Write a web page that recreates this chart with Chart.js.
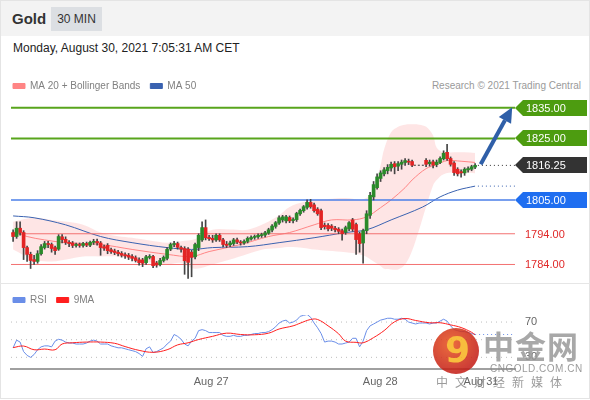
<!DOCTYPE html>
<html>
<head>
<meta charset="utf-8">
<script src="https://cdn.jsdelivr.net/npm/chart.js@4.4.0/dist/chart.umd.min.js"></script>
<style>
  body { margin: 0; width: 590px; height: 400px; overflow: hidden; background: #fff;
         font-family: "Liberation Sans", Arial, sans-serif; }
  .abs { position: absolute; }
  #frame { left: 0; top: 0; width: 588px; height: 397px; border: 1px solid #e4e4e4; }
  #head { left: 1px; top: 1px; width: 588px; height: 35px; background: #f3f3f3; }
  #gold { left: 12px; top: 10px; font-size: 15px; font-weight: bold; color: #333; }
  #tf { left: 51px; top: 7px; width: 51px; height: 24px; line-height: 24px; text-align: center;
        background: #dcdfe3; font-size: 12px; color: #333; }
  #date { left: 13px; top: 41px; font-size: 12px; color: #222; }
  #research { right: 9px; top: 80px; font-size: 10px; color: #9a9a9a; }
  #sep { left: 0; top: 283px; width: 590px; height: 1px; background: #e6e6e6; }
  canvas { position: absolute; left: 0; }
  #main { top: 71px; }
  #rsi { top: 285px; }
  #wm { left: 430px; top: 326px; width: 160px; height: 70px; opacity: 0.85; }
  #logo { left: 3px; top: 2px; width: 46px; height: 46px; border-radius: 50%;
          background: radial-gradient(circle at 40% 35%, #e8521c, #c41c14 70%); }
  #logo span { position: absolute; left: 12px; top: 1px; font-size: 36px; font-weight: bold;
               color: #f7b21c; font-family: "DejaVu Sans", sans-serif; }
  #cn { left: 53px; top: 1px; font-size: 31px; font-weight: bold; color: #999;
        font-family: "Noto Sans CJK SC", sans-serif; letter-spacing: 1px; line-height: 36px; }
  #dom { left: 60px; top: 37px; font-size: 10px; color: #8a8a8a; letter-spacing: 0.5px; }
  #slogan { left: 6px; top: 47px; font-size: 12px; color: #8a8a8a; letter-spacing: 7px;
            font-family: "Noto Sans CJK SC", sans-serif; }
</style>
</head>
<body>
<div id="frame" class="abs"></div>
<div id="head" class="abs"></div>
<div id="gold" class="abs">Gold</div>
<div id="tf" class="abs">30 MIN</div>
<div id="date" class="abs">Monday, August 30, 2021 7:05:31 AM CET</div>
<div id="research" class="abs">Research © 2021 Trading Central</div>
<div id="sep" class="abs"></div>
<canvas id="main" width="590" height="212"></canvas>
<canvas id="rsi" width="590" height="111"></canvas>
<div id="wm" class="abs">
  <div id="logo" class="abs"><span>9</span></div>
  <div id="cn" class="abs">中金网</div>
  <div id="dom" class="abs">CNGOLD.COM.CN</div>
  <div id="slogan" class="abs">中文财经新媒体</div>
</div>
<script>
// ---- candles (30 min), index 115-117 = weekend gap
const opens = [1794.4,1793.1,1795.8,1794.4,1789.5,1787.3,1785.6,1785.0,1787.5,1789.5,
  1790.8,1790.5,1789.5,1789.0,1793.0,1792.2,1791.2,1791.0,1790.2,1790.5,
  1790.2,1790.8,1790.3,1791.2,1791.5,1791.0,1789.8,1790.2,1788.8,1788.4,
  1788.0,1787.6,1787.2,1787.0,1786.6,1786.2,1785.5,1785.5,1784.6,1786.3,
  1786.6,1784.5,1784.0,1785.3,1786.0,1789.0,1790.5,1790.8,1789.5,1789.2,
  1789.0,1788.0,1786.5,1789.5,1792.0,1796.0,1792.8,1792.5,1792.0,1793.5,
  1792.0,1790.6,1790.4,1790.8,1792.0,1791.2,1791.0,1791.5,1792.3,1792.8,
  1793.0,1793.4,1793.6,1794.2,1795.2,1796.4,1797.5,1798.5,1798.2,1799.3,
  1798.3,1798.6,1800.5,1801.5,1802.6,1804.2,1803.4,1802.0,1801.5,1796.8,
  1796.7,1796.5,1795.8,1795.5,1795.0,1794.5,1795.6,1798.5,1797.0,1794.0,
  1791.0,1795.0,1800.0,1806.0,1809.0,1812.0,1813.5,1814.5,1815.4,1816.8,
  1816.0,1816.6,1817.2,1817.6,1817.5,null,null,null,1817.9,1816.8,
  1817.4,1816.5,1817.2,1818.4,1820.5,1818.5,1817.0,1815.0,1814.2,1813.8,
  1814.8,1815.0,1815.7];
const closes = [1793.1,1795.8,1794.4,1789.5,1787.3,1785.3,1785.0,1787.5,1789.8,1790.8,
  1790.5,1789.2,1788.5,1793.1,1792.1,1791.2,1790.8,1790.2,1790.5,1790.2,
  1790.8,1790.3,1791.2,1791.5,1791.0,1789.5,1789.3,1788.5,1788.2,1787.9,
  1787.5,1787.0,1786.8,1786.4,1786.0,1785.3,1784.6,1784.4,1786.5,1786.6,
  1783.6,1783.8,1785.3,1786.3,1788.9,1790.5,1790.8,1789.6,1789.0,1785.2,
  1784.7,1786.3,1790.5,1793.5,1796.0,1792.7,1792.4,1792.0,1793.5,1792.0,
  1790.5,1790.2,1791.0,1792.0,1791.3,1791.0,1791.5,1792.5,1792.8,1793.0,
  1793.5,1793.7,1794.3,1795.3,1796.5,1797.6,1799.2,1799.5,1799.5,1798.2,
  1798.6,1800.6,1801.6,1802.8,1804.2,1802.8,1801.5,1800.5,1796.0,1796.3,
  1795.6,1795.8,1795.3,1794.8,1794.0,1796.0,1797.6,1795.5,1792.1,1790.8,
  1795.0,1800.5,1806.5,1810.0,1812.5,1813.8,1814.8,1815.6,1816.6,1815.8,
  1816.8,1817.3,1817.8,1817.3,1816.3,null,null,null,1816.6,1817.3,
  1816.3,1817.3,1818.5,1820.2,1818.4,1816.6,1813.9,1813.5,1813.8,1815.0,
  1815.2,1815.8,1816.25];
const highs = [1795.3,1797.9,1797.9,1795.0,1790.0,1788.0,1787.0,1788.5,1790.5,1791.5,
  1791.5,1791.0,1790.0,1793.7,1793.7,1793.0,1791.8,1791.5,1791.0,1791.0,
  1791.2,1791.3,1791.6,1792.2,1792.3,1791.5,1790.3,1790.8,1789.3,1789.0,
  1788.6,1788.2,1787.8,1787.6,1787.2,1786.8,1786.2,1786.0,1787.0,1787.2,
  1787.0,1785.0,1786.0,1786.8,1789.5,1791.0,1791.5,1791.3,1790.0,1789.8,
  1789.5,1788.6,1791.0,1794.0,1797.9,1798.5,1793.5,1793.5,1794.0,1794.0,
  1792.5,1791.5,1791.6,1792.5,1792.6,1791.8,1792.0,1793.0,1793.3,1793.6,
  1794.0,1794.2,1794.8,1795.8,1797.0,1798.0,1799.8,1800.0,1800.0,1799.8,
  1799.2,1801.0,1802.0,1803.2,1805.0,1805.2,1804.0,1802.5,1802.0,1797.5,
  1797.3,1797.0,1796.4,1796.0,1795.5,1796.5,1798.0,1799.0,1797.5,1794.5,
  1795.5,1801.5,1807.5,1811.0,1813.5,1814.5,1815.5,1816.5,1817.3,1817.5,
  1817.5,1818.0,1818.5,1818.3,1818.0,null,null,null,1818.5,1818.0,
  1818.0,1818.0,1819.0,1821.0,1823.1,1819.0,1817.5,1815.5,1814.8,1815.5,
  1815.8,1816.3,1816.8];
const lows = [1791.5,1792.5,1793.5,1785.6,1785.0,1782.7,1784.0,1784.4,1787.0,1789.0,
  1789.5,1788.0,1787.3,1788.6,1791.0,1790.5,1789.8,1789.5,1789.6,1789.6,
  1789.6,1789.8,1789.8,1790.5,1790.3,1787.0,1788.6,1787.5,1787.6,1787.2,
  1786.8,1786.4,1786.0,1785.6,1785.2,1784.8,1783.8,1783.3,1784.0,1785.8,
  1783.0,1783.1,1783.5,1784.8,1785.5,1788.5,1789.8,1789.0,1788.0,1780.8,
  1779.5,1780.0,1785.8,1788.5,1791.5,1792.0,1791.8,1791.2,1791.5,1791.5,
  1789.8,1789.5,1789.8,1790.2,1790.8,1790.3,1790.5,1791.0,1791.9,1792.2,
  1792.5,1792.8,1793.0,1793.8,1794.6,1795.8,1797.0,1797.8,1797.5,1797.6,
  1797.5,1798.0,1800.0,1801.0,1802.0,1802.3,1801.0,1800.0,1795.3,1795.5,
  1794.9,1795.0,1794.6,1794.0,1791.9,1793.8,1795.0,1794.8,1787.3,1788.0,
  1784.4,1794.0,1799.0,1805.0,1808.5,1811.0,1812.8,1813.5,1814.4,1813.5,
  1814.5,1815.0,1816.2,1816.5,1815.8,null,null,null,1815.8,1816.0,
  1815.4,1815.8,1816.8,1818.0,1817.9,1816.0,1813.0,1812.8,1812.4,1813.0,
  1814.0,1814.5,1815.2];

// ---- bollinger bands / moving averages, read at these candle indexes
const bandIdx =   [0, 6, 11, 16, 20, 25, 30, 34, 39, 44, 48, 52, 57, 62, 67, 72, 76, 79, 83, 86,
  90, 95, 100, 103, 105, 106, 108, 110, 112, 114, 116, 118, 120, 121, 123, 126, 129, 132];
const bandUpper = [1797.9,1799.2,1798.5,1797.8,1796.9,1794.4,1793.2,1792.7,1791.8,1791.1,
  1791.6,1792.3,1795.3,1795.4,1795.3,1797.4,1800.0,1802.7,1804.3,1805.0,
  1805.3,1805.6,1805.2,1808.0,1816.3,1821.5,1827.0,1828.8,1829.5,1829.6,
  1829.5,1828.8,1826.0,1822.1,1820.5,1820.5,1820.5,1820.3];
const bandLower = [1788.9,1785.5,1785.0,1785.8,1786.6,1786.6,1786.6,1785.8,1784.7,1784.0,
  1784.5,1782.6,1784.0,1785.6,1787.4,1789.0,1789.4,1789.7,1789.4,1788.9,
  1788.5,1788.0,1787.0,1785.0,1783.5,1782.6,1782.4,1782.4,1784.0,1788.5,
  1795.3,1802.8,1809.8,1811.5,1813.4,1814.0,1813.9,1813.7];
const ma20Idx = [0, 4, 9, 15, 25, 34, 44, 51, 56, 65, 73, 79, 86, 91, 97, 101, 105, 108, 112, 114,
  118, 121, 124, 128, 132];
const ma20Val = [1794.7,1793.1,1792.0,1791.1,1790.5,1788.9,1787.3,1786.6,1788.2,1790.5,
  1793.1,1794.4,1796.9,1798.5,1798.5,1799.5,1802.5,1805.0,1809.0,1811.5,
  1815.2,1816.5,1817.8,1817.6,1817.2];
const ma50Idx = [0, 6, 15, 25, 34, 44, 51, 57, 67, 76, 86, 95, 101, 108, 117, 122, 127, 132];
const ma50Val = [1799.8,1799.2,1796.9,1793.1,1791.1,1789.5,1788.9,1789.5,1789.8,1791.1,
  1792.7,1794.4,1795.3,1798.5,1802.7,1806.0,1808.2,1809.5];

// ---- key levels
const resistances = [1835, 1825];
const pivot = 1805;
const supports = [1794, 1784];
const lastPrice = 1816.25;
const arrowFrom = [133.6, 1816.6];
const arrowTo = [142.6, 1835.2];

// ---- RSI panel
const rsiVal = [40.8,49.5,47.3,36.5,32.2,30.0,33.2,38.6,41.9,43.0,
  43.0,41.9,48.4,50.5,49.5,47.3,46.2,46.2,45.1,45.1,
  45.1,46.2,48.4,49.5,48.4,45.1,45.1,45.1,43.0,41.9,
  40.8,40.8,39.7,38.6,37.6,36.5,34.3,31.1,39.7,41.9,
  35.4,36.5,38.6,40.8,45.1,48.4,55.9,53.8,50.5,45.1,
  43.0,48.4,51.6,60.3,61.4,60.3,58.1,58.1,58.1,58.1,
  54.9,53.8,53.8,54.9,53.8,53.8,54.9,54.9,55.9,57.0,
  57.0,58.1,58.1,59.2,61.4,64.6,68.9,71.1,72.2,68.9,
  70.0,72.2,76.5,77.6,78.6,75.4,68.9,63.5,57.0,47.3,
  48.4,48.4,47.3,45.1,45.1,46.2,47.3,51.6,51.6,41.9,
  48.4,60.3,65.7,67.8,70.0,72.2,73.2,74.3,74.3,73.2,
  73.2,74.3,73.2,70.0,68.9,67.8,68.9,68.9,68.9,67.8,
  68.9,68.9,71.1,73.2,71.1,65.7,61.4,60.3,59.2,59.2,
  58.1,57.0,55.9];
const ma9Idx = [0, 3, 6, 9, 12, 14, 17, 21, 25, 29, 32, 36, 40, 44, 47, 50, 53, 57, 61, 65,
  69, 73, 76, 80, 82, 85, 87, 90, 93, 95, 98, 100, 103, 106, 109, 112, 115, 119, 122, 125,
  128, 131, 132];
const ma9Val = [41.0,42.8,38.6,39.4,38.6,45.1,46.5,47.3,47.3,45.9,42.2,37.9,35.7,38.6,44.1,
  46.5,50.2,53.8,57.4,55.9,55.6,57.4,62.1,65.7,68.7,72.9,72.9,65.7,56.7,48.4,
  47.0,46.5,52.4,60.3,70.3,74.0,71.8,69.2,69.2,66.8,63.8,58.4,55.6];
const rsiLevels = [70, 50, 30];
const dateTicks = [56.6, 104.9, 133.7];
const dateLabels = ['Aug 27', 'Aug 28', 'Aug 31'];

const X_MIN = -0.6, X_MAX = 143.4;
const FONT = '"Liberation Sans", Arial, sans-serif';

const pts = (xs, ys) => xs.map((x, k) => ({x: x, y: ys[k]}));
const hline = (v, x0, x1) => [{x: x0, y: v}, {x: x1, y: v}];

const wickData = [], upData = [], downData = [];
for (let i = 0; i < opens.length; i++) {
  if (opens[i] === null) continue;
  wickData.push({x: i, y: [lows[i], highs[i]]});
  const body = {x: i, y: [opens[i], closes[i]]};
  if (closes[i] >= opens[i]) upData.push(body); else downData.push(body);
}
const lastIdx = opens.length - 1;

function lineDs(data, color, extra) {
  return Object.assign({type: 'line', data: data, borderColor: color, backgroundColor: color,
    borderWidth: 1, pointRadius: 0, tension: 0, fill: false}, extra || {});
}

// tags on the right of the price panel + arrow
const levelTags = {
  id: 'levelTags',
  afterDatasetsDraw(chart) {
    const {ctx, chartArea, scales} = chart;
    const y = scales.y, x = scales.x;
    ctx.save();
    ctx.font = '11px ' + FONT;
    ctx.textBaseline = 'middle';
    const tags = [
      [resistances[0], '#4d9c10'], [resistances[1], '#4d9c10'],
      [lastPrice, '#333333'], [pivot, '#1f6ef0']
    ];
    const left = chartArea.right;
    tags.forEach(([v, c]) => {
      const py = Math.round(y.getPixelForValue(v));
      ctx.fillStyle = c;
      ctx.beginPath();
      ctx.moveTo(left, py);
      ctx.lineTo(left + 8, py - 8);
      ctx.lineTo(587, py - 8);
      ctx.lineTo(587, py + 8);
      ctx.lineTo(left + 8, py + 8);
      ctx.closePath();
      ctx.fill();
      ctx.fillStyle = '#fff';
      ctx.fillText(v.toFixed(2), left + 11, py + 1);
    });
    ctx.fillStyle = '#e02828';
    supports.forEach(v => {
      ctx.fillText(v.toFixed(2), left + 10, Math.round(y.getPixelForValue(v)) + 1);
    });
    // arrow
    const x0 = x.getPixelForValue(arrowFrom[0]), y0 = y.getPixelForValue(arrowFrom[1]);
    const x1 = x.getPixelForValue(arrowTo[0]), y1 = y.getPixelForValue(arrowTo[1]);
    const ang = Math.atan2(y1 - y0, x1 - x0);
    const hl = 15, hw = 7;
    const bx = x1 - hl * Math.cos(ang), by = y1 - hl * Math.sin(ang);
    ctx.strokeStyle = '#2f5fa8';
    ctx.fillStyle = '#2f5fa8';
    ctx.lineWidth = 4;
    ctx.beginPath();
    ctx.moveTo(x0, y0);
    ctx.lineTo(bx, by);
    ctx.stroke();
    ctx.beginPath();
    ctx.moveTo(x1, y1);
    ctx.lineTo(bx + hw * Math.sin(ang), by - hw * Math.cos(ang));
    ctx.lineTo(bx - hw * Math.sin(ang), by + hw * Math.cos(ang));
    ctx.closePath();
    ctx.fill();
    ctx.restore();
  }
};

const legendLabels = (keep) => ({
  filter: (item) => keep.includes(item.datasetIndex),
  sort: (a, b) => a.datasetIndex - b.datasetIndex,
  boxWidth: 12, boxHeight: 5, padding: 10,
  color: '#808080', font: {family: FONT, size: 10}
});

new Chart(document.getElementById('main'), {
  type: 'bar',
  data: {
    datasets: [
      lineDs(pts(bandIdx, bandUpper), 'rgba(0,0,0,0)', {borderWidth: 0, tension: 0.35,
        fill: {target: 1}, backgroundColor: 'rgba(250,150,150,0.25)', order: 20, label: 'bu'}),
      lineDs(pts(bandIdx, bandLower), 'rgba(0,0,0,0)', {borderWidth: 0, tension: 0.35, order: 20, label: 'bl'}),
      lineDs(pts(ma20Idx, ma20Val), '#ff8585', {tension: 0.35, order: 15, label: 'MA 20 + Bollinger Bands'}),
      lineDs(pts(ma50Idx, ma50Val), '#3a62b0', {tension: 0.35, order: 15, label: 'MA 50'}),
      lineDs(hline(resistances[0], X_MIN, X_MAX), '#58a51c', {borderWidth: 2, order: 12, label: 'r1'}),
      lineDs(hline(resistances[1], X_MIN, X_MAX), '#58a51c', {borderWidth: 2, order: 12, label: 'r2'}),
      lineDs(hline(pivot, X_MIN, X_MAX), '#4b7fe8', {borderWidth: 1.5, order: 12, label: 'p'}),
      lineDs(hline(supports[0], X_MIN, X_MAX), '#f37272', {order: 12, label: 's1'}),
      lineDs(hline(supports[1], X_MIN, X_MAX), '#f37272', {order: 12, label: 's2'}),
      lineDs(hline(lastPrice, lastIdx + 0.8, X_MAX), '#333', {borderDash: [1, 3], order: 12, label: 'lp'}),
      lineDs(hline(ma50Val[ma50Val.length - 1], lastIdx + 0.8, X_MAX), '#3a62b0', {borderDash: [1, 3], order: 12, label: 'm50x'}),
      lineDs(hline(closes[114], 114.5, 117.5), '#333', {borderDash: [2, 2], order: 12, label: 'gap'}),
      {label: 'wick', data: wickData, backgroundColor: '#444', barThickness: 1, grouped: false, order: 3},
      {label: 'up', data: upData, backgroundColor: '#2a8a2a', barThickness: 3, grouped: false, minBarLength: 1, order: 1},
      {label: 'down', data: downData, backgroundColor: '#e22424', barThickness: 3, grouped: false, minBarLength: 1, order: 1}
    ]
  },
  options: {
    responsive: false, animation: false, devicePixelRatio: 1,
    layout: {padding: {left: 3, right: 75, top: 0, bottom: 1}},
    plugins: {
      tooltip: {enabled: false},
      legend: {position: 'top', align: 'start', labels: legendLabels([2, 3])}
    },
    scales: {
      x: {type: 'linear', min: X_MIN, max: X_MAX, offset: false, display: false},
      y: {min: 1778.3, max: 1837.2, position: 'left', grid: {display: false},
          ticks: {display: false}, border: {display: false},
          afterFit: (s) => { s.width = 8; }}
    }
  },
  plugins: [levelTags]
});

new Chart(document.getElementById('rsi'), {
  type: 'line',
  data: {
    datasets: [
      lineDs(pts(rsiVal.map((v, i) => i), rsiVal), '#6a8ee8', {label: 'RSI', order: 2}),
      lineDs(pts(ma9Idx, ma9Val), '#ff1f1f', {label: '9MA', tension: 0.4, order: 1}),
      lineDs(hline(rsiLevels[0], X_MIN, 142.6), '#bdbdbd', {borderDash: [1, 4], order: 5, label: 'l70'}),
      lineDs(hline(rsiLevels[1], X_MIN, 142.6), '#bdbdbd', {borderDash: [1, 4], order: 5, label: 'l50'}),
      lineDs(hline(rsiLevels[2], X_MIN, 142.6), '#bdbdbd', {borderDash: [1, 4], order: 5, label: 'l30'}),
      lineDs(hline(rsiVal[rsiVal.length - 1], rsiVal.length - 1, 142.6), '#6a8ee8', {borderDash: [1, 3], order: 5, label: 'rx'})
    ]
  },
  options: {
    responsive: false, animation: false, devicePixelRatio: 1,
    layout: {padding: {left: 3, right: 0, top: 0, bottom: 0}},
    plugins: {
      tooltip: {enabled: false},
      legend: {position: 'top', align: 'start', labels: legendLabels([0, 1])}
    },
    scales: {
      x: {type: 'linear', min: X_MIN, max: X_MAX, offset: false,
          grid: {display: false, drawTicks: false},
          border: {display: true, color: '#a0a0a0', width: 2},
          afterBuildTicks: (s) => { s.ticks = dateTicks.map(v => ({value: v})); },
          ticks: {autoSkip: false, maxRotation: 0, padding: 7, color: '#666',
                  font: {family: FONT, size: 11},
                  callback: (v, i) => dateLabels[i]}},
      y: {min: 17, max: 78, position: 'right',
          grid: {display: false, drawTicks: false}, border: {display: false},
          afterBuildTicks: (s) => { s.ticks = rsiLevels.map(v => ({value: v})); },
          ticks: {padding: 10, color: '#666', font: {family: FONT, size: 11},
                  callback: (v) => (v === 50 ? '' : String(v))},
          afterFit: (s) => { s.width = 75; }},
      yl: {position: 'left', display: true, grid: {display: false}, ticks: {display: false},
           border: {display: false}, afterFit: (s) => { s.width = 8; }}
    }
  }
});
</script>
</body>
</html>
